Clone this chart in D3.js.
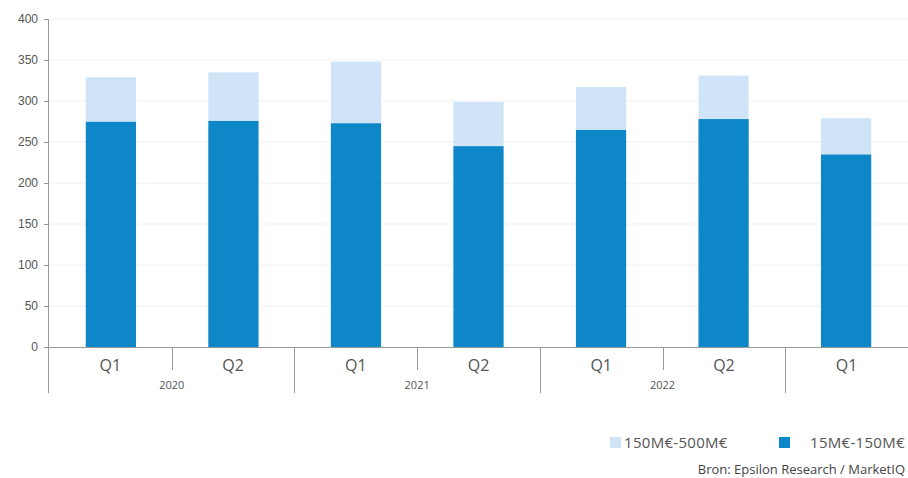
<!DOCTYPE html>
<html>
<head>
<meta charset="utf-8">
<script src="https://cdn.jsdelivr.net/npm/d3@7"></script>
<style>
	body { margin: 0; background: #fff; }
	svg { font-family: "Open Sans", Lato, sans-serif; }
</style>
</head>
<body>
<svg id="chart" width="908" height="478"></svg>
<script>
// Chart data
const quarters = ["Q1", "Q2", "Q1", "Q2", "Q1", "Q2", "Q1"];
const years = ["2020", "2020", "2021", "2021", "2022", "2022", "2023"];
const yearLabels = ["2020", "2021", "2022"];
const small = [275, 276, 273, 245, 265, 278, 235];   // 15M€-150M€
const large = [54, 59, 75, 54, 52, 53, 44];          // 150M€-500M€
const yTicks = [0, 50, 100, 150, 200, 250, 300, 350, 400];

const svg = d3.select("#chart");
const margin = { top: 19, right: 0, bottom: 131, left: 49 };
const width = 908 - margin.left - margin.right;
const height = 478 - margin.top - margin.bottom;

const darkBlue = "#0d87c8";
const lightBlue = "#cfe5f7";
const textColor = "#555";

const g = svg.append("g").attr("transform", `translate(${margin.left},${margin.top})`);

const keys = quarters.map((q, i) => i);
const x = d3.scaleBand().domain(keys).range([0, width]).paddingInner(0.59).paddingOuter(0.3);
const xFull = d3.scaleBand().domain(keys).range([0, width]);
const y = d3.scaleLinear().domain([0, 400]).range([height, 0]);

// Gridlines
g.append("g")
	.selectAll("line")
	.data(yTicks.filter((t) => t > 0))
	.join("line")
	.attr("x1", 0)
	.attr("x2", width)
	.attr("y1", (d) => y(d))
	.attr("y2", (d) => y(d))
	.attr("stroke", "#f0f0f0")
	.attr("stroke-width", 1);

// Stacked bars
const rows = keys.map((i) => ({ i, small: small[i], large: large[i] }));
const stack = d3.stack().keys(["small", "large"])(rows);
const colors = { small: darkBlue, large: lightBlue };

g.append("g")
	.selectAll("g")
	.data(stack)
	.join("g")
	.attr("fill", (s) => colors[s.key])
	.selectAll("rect")
	.data((s) => s)
	.join("rect")
	.attr("x", (d) => x(d.data.i))
	.attr("width", x.bandwidth())
	.attr("y", (d) => y(d[1]))
	.attr("height", (d) => y(d[0]) - y(d[1]));

// Y axis
const yAxis = g.append("g")
	.call(d3.axisLeft(y).tickValues(yTicks).tickSize(5).tickPadding(6));
yAxis.select(".domain").attr("stroke", "#999").attr("d", `M-0.5,0V${height + 46}`);
yAxis.selectAll(".tick line").attr("stroke", "#999");
yAxis.selectAll("text").attr("fill", textColor).style("font-size", "12px");

// X axis baseline
g.append("line")
	.attr("x1", 0)
	.attr("x2", width)
	.attr("y1", height + 0.5)
	.attr("y2", height + 0.5)
	.attr("stroke", "#999");

// Category separators: short within a year, long between years
g.append("g")
	.selectAll("line")
	.data(keys.slice(1))
	.join("line")
	.attr("x1", (i) => Math.round(xFull(i)) + 0.5)
	.attr("x2", (i) => Math.round(xFull(i)) + 0.5)
	.attr("y1", height)
	.attr("y2", (i) => (years[i] !== years[i - 1] ? height + 46 : height + 23))
	.attr("stroke", "#999");

// Quarter labels
g.append("g")
	.selectAll("text")
	.data(keys)
	.join("text")
	.attr("x", (i) => xFull(i) + xFull.bandwidth() / 2)
	.attr("y", height + 24)
	.attr("text-anchor", "middle")
	.attr("fill", textColor)
	.style("font-size", "16px")
	.text((i) => quarters[i]);

// Year labels
g.append("g")
	.selectAll("text")
	.data(yearLabels)
	.join("text")
	.attr("x", (yr) => {
		const idx = keys.filter((i) => years[i] === yr);
		return (xFull(idx[0]) + xFull(idx[idx.length - 1]) + xFull.bandwidth()) / 2;
	})
	.attr("y", height + 42)
	.attr("text-anchor", "middle")
	.attr("fill", textColor)
	.style("font-size", "11px")
	.text((d) => d);

// Legend
const legend = svg.append("g");
const legendItems = [
	{ label: "150M€-500M€", color: lightBlue, x: 610, tx: 624 },
	{ label: "15M€-150M€", color: darkBlue, x: 779, tx: 810 },
];
legendItems.forEach((d) => {
	legend.append("rect")
		.attr("x", d.x)
		.attr("y", 437)
		.attr("width", 11)
		.attr("height", 11)
		.attr("fill", d.color);
	legend.append("text")
		.attr("x", d.tx)
		.attr("y", 448)
		.attr("fill", textColor)
		.style("font-size", "15px")
		.style("letter-spacing", "0.3px")
		.text(d.label);
});

// Source
svg.append("text")
	.attr("x", 905)
	.attr("y", 474)
	.attr("text-anchor", "end")
	.attr("fill", "#444")
	.style("font-size", "13px")
	.text("Bron: Epsilon Research / MarketIQ");
</script>
</body>
</html>
